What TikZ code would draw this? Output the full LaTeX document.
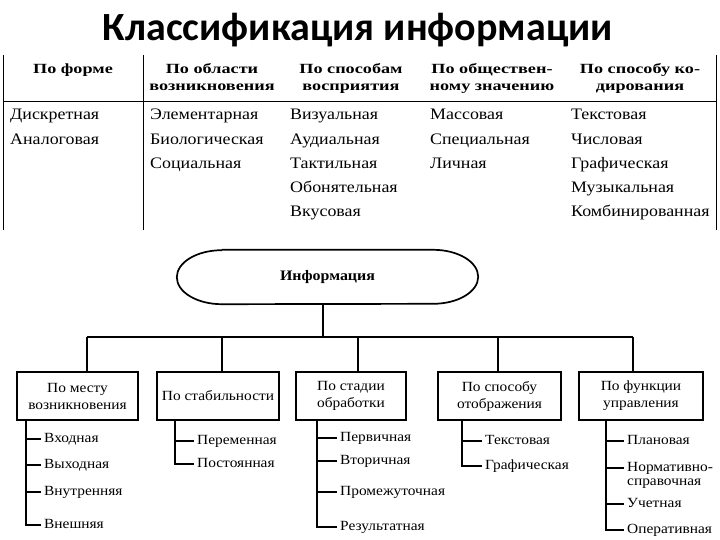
\documentclass[tikz,border=0pt]{standalone}
\usepackage{fontspec}
\setmainfont{Liberation Serif}
\newfontfamily\titlefont{Carlito}
\newfontfamily\headfont[FakeStretch=1.3]{Liberation Serif}
\newfontfamily\tablefont[FakeStretch=1.12]{Liberation Serif}
\newfontfamily\treefont[FakeStretch=1.1]{Liberation Serif}
\usetikzlibrary{positioning}

\begin{document}
\begin{tikzpicture}[
                x=1pt, y=-1pt,
                title/.style={font=\titlefont\fontsize{40}{44}\selectfont\bfseries, anchor=base},
                head/.style={font=\headfont\fontsize{14}{17.5}\selectfont\bfseries, align=center, anchor=north, inner sep=0pt},
                cell/.style={font=\tablefont\fontsize{16}{19}\selectfont, anchor=west, inner sep=0pt,
                  text height=0.66em, text depth=0pt},
                grid/.style={draw, line width=0.9pt},
                box/.style={draw, line width=1.7pt, minimum height=48pt, align=center,
                  font=\treefont\fontsize{14}{17}\selectfont, inner sep=1pt},
                lbl/.style={font=\treefont\fontsize{14}{14.5}\selectfont, anchor=west, align=left, inner sep=3pt},
                leaf/.style={lbl, text height=0.66em, text depth=0pt},
                link/.style={draw, line width=1.7pt}
              ]
              \useasboundingbox (0,0) rectangle (720,540);

              \node (T) [title] at (358,41) {Классификация информации};

              % table
              \node (H1) [head] at (73,63.5) {По форме};
              \node (H2) [head] at (212,63) {По области\\возникновения};
              \node (H3) [head] at (351,63) {По способам\\восприятия};
              \node (H4) [head] at (492,63) {По обществен-\\ному значению};
              \node (H5) [head] at (640,63) {По способу ко-\\дирования};
              \draw[grid] (3,55) -- (3,230);
              \draw[grid] (143,55) -- (143,230);
              \draw[grid] (716,55) -- (716,230);
              \draw[grid] (3,101) -- (716,101);

              \foreach \t [count=\i] in {Дискретная, Аналоговая}
                \node (F\i) [cell] at (10,{116.5+24.3*(\i-1)}) {\t};
              \foreach \t [count=\i] in {Элементарная, Биологическая, Социальная}
                \node (O\i) [cell] at (150,{116.5+24.3*(\i-1)}) {\t};
              \foreach \t [count=\i] in {Визуальная, Аудиальная, Тактильная, Обонятельная, Вкусовая}
                \node (V\i) [cell] at (290,{116.5+24.3*(\i-1)}) {\t};
              \foreach \t [count=\i] in {Массовая, Специальная, Личная}
                \node (S\i) [cell] at (430,{116.5+24.3*(\i-1)}) {\t};
              \foreach \t [count=\i] in {Текстовая, Числовая, Графическая, Музыкальная, Комбинированная}
                \node (K\i) [cell] at (571,{116.5+24.3*(\i-1)}) {\t};

              % tree
              \node (info) [font=\treefont\fontsize{14.5}{16}\selectfont\bfseries, minimum width=301pt, minimum height=54pt] at (327.5,277) {Информация};
              \draw[line width=1.7pt] ([xshift=45pt]info.north west) -- ([xshift=-45pt]info.north east)
                arc[start angle=90, end angle=-90, x radius=45pt, y radius=27pt]
                -- ([xshift=45pt]info.south west)
                arc[start angle=270, end angle=90, x radius=45pt, y radius=27pt];

              \node (box1) [box, minimum width=121pt] at (77.5,396) {По месту\\возникновения};
              \node (box2) [box, minimum width=122pt] at (218,396) {По стабильности};
              \node (box3) [box, minimum width=110pt] at (351,396) {По стадии\\обработки};
              \node (box4) [box, minimum width=123pt] at (499.5,396) {По способу\\отображения};
              \node (box5) [box, minimum width=124pt] at (641,396) {По функции\\управления};

              \coordinate (bus) at (323,337);
              \coordinate (b1) at (87,337);
              \coordinate (b2) at (222,337);
              \coordinate (b3) at (358,337);
              \coordinate (b4) at (498,337);
              \coordinate (b5) at (633,337);
              \draw[link] (info.south -| bus) -- (bus);
              \draw[link] (b1) -- (b5);
              \foreach \i in {1,...,5}
                \draw[link] (b\i) -- (b\i |- box\i.north);

              \foreach \t/\y [count=\i] in {Входная/439, Выходная/465, Внутренняя/492, Внешняя/525}
                \node (A\i) [leaf] at (41,\y) {\t};
              \foreach \t/\y [count=\i] in {Переменная/441, Постоянная/464}
                \node (B\i) [leaf] at (194,\y) {\t};
              \foreach \t/\y [count=\i] in {Первичная/438, Вторичная/461, Промежуточная/492, Результатная/527}
                \node (C\i) [leaf] at (337,\y) {\t};
              \foreach \t/\y [count=\i] in {Текстовая/441, Графическая/466}
                \node (D\i) [leaf] at (482,\y) {\t};
              \node (E1) [leaf] at (624,441) {Плановая};
              \node (E2) [lbl] at (624,475.5) {Нормативно-\\справочная};
              \node (E3) [leaf] at (624,504) {Учетная};
              \node (E4) [leaf] at (624,530) {Оперативная};
              \coordinate (E2t) at ([yshift=7.5pt]E2.west);

              \coordinate (t1) at (26,420);
              \coordinate (t2) at (175,420);
              \coordinate (t3) at (317,420);
              \coordinate (t4) at (462,420);
              \coordinate (t5) at (606,420);

              % Draw branches
              \draw[link] (t1) |- (A4.west);
              \foreach \i in {1,2,3} \draw[link] (t1 |- A\i.west) -- (A\i.west);
              \draw[link] (t2) |- (B2.west);
              \draw[link] (t2 |- B1.west) -- (B1.west);
              \draw[link] (t3) |- (C4.west);
              \foreach \i in {1,2,3} \draw[link] (t3 |- C\i.west) -- (C\i.west);
              \draw[link] (t4) |- (D2.west);
              \draw[link] (t4 |- D1.west) -- (D1.west);
              \draw[link] (t5) |- (E4.west);
              \draw[link] (t5 |- E1.west) -- (E1.west);
              \draw[link] (t5 |- E2t) -- (E2t);
              \draw[link] (t5 |- E3.west) -- (E3.west);

            \end{tikzpicture}
\end{document}
